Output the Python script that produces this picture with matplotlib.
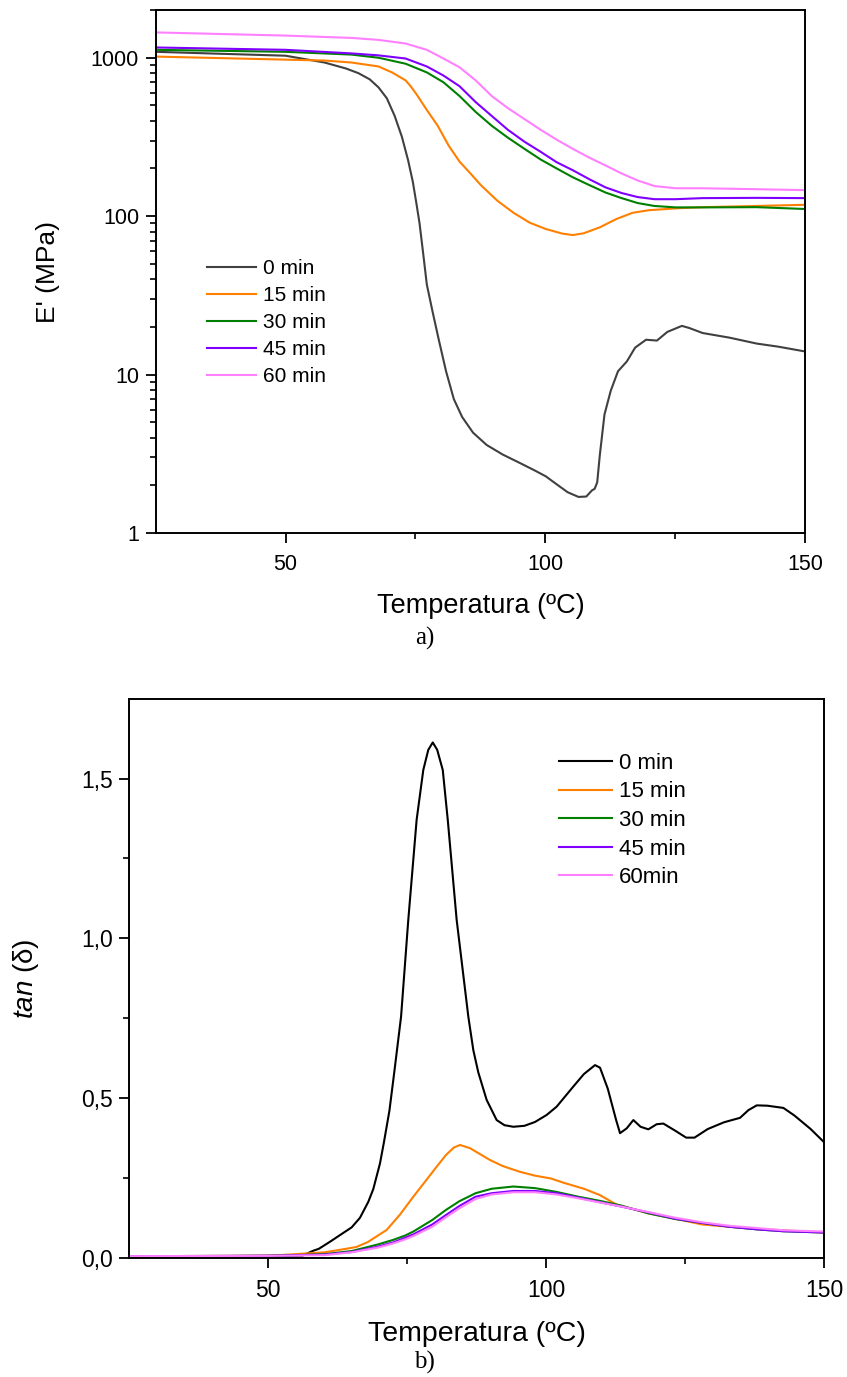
import matplotlib
matplotlib.use("Agg")
import matplotlib.pyplot as plt
from matplotlib.ticker import FixedLocator, NullFormatter, LogLocator

plt.rcParams['font.family'] = ['Liberation Sans', 'DejaVu Sans']
plt.rcParams['mathtext.fontset'] = 'custom'
plt.rcParams['mathtext.it'] = 'Liberation Sans:italic'
plt.rcParams['mathtext.rm'] = 'Liberation Sans'

# ---------------- data: storage modulus E' (MPa) ----------------
T_e0 = [25, 50, 57.5, 61.6, 64, 66.2, 67.9, 69.5, 71, 72.4, 73.6, 74.5, 75.2, 75.8, 76.5,
        77.2, 78.3, 79.5, 80.9, 82.4, 84, 86.1, 88.7, 91.8, 94.9, 98, 100.1, 102.2, 104.3,
        106.4, 107.9, 109, 109.5, 110, 110.5, 111.4, 112.6, 114, 115.7, 117.3, 119.4,
        121.5, 123.5, 126.3, 127.7, 130.3, 135.5, 140.7, 144.9, 150]
E_0min = [1090, 1030, 933, 856, 800, 731, 650, 555, 430, 317, 225, 165, 120, 90, 58,
          37, 25, 16.6, 10.5, 7.0, 5.4, 4.3, 3.6, 3.13, 2.79, 2.48, 2.28, 2.03, 1.81,
          1.69, 1.70, 1.86, 1.90, 2.09, 3.1, 5.6, 7.9, 10.5, 12.1, 14.8, 16.6,
          16.4, 18.6, 20.3, 19.7, 18.3, 17.1, 15.7, 15.0, 14.0]

T_e15 = [25, 57.5, 62.7, 67.9, 70.5, 73.1, 74.1, 75.2, 77.2, 79.3, 81.4, 83.5, 85.6, 87.6,
         90.8, 93.9, 97, 100.1, 103.3, 105.3, 107.4, 110.5, 113.7, 116.8, 119.9, 125.1,
         130.3, 140.7, 150]
E_15min = [1017, 960, 933, 881, 808, 720, 660, 589, 468, 372, 279, 221, 186, 157,
           125, 105, 91, 83, 77.6, 76, 78, 85, 96, 105, 109, 112, 114, 116, 118]

T_e = [25, 50, 62.7, 67.9, 73.1, 77.2, 80.4, 83.5, 86.6, 89.7, 92.8, 96, 99.1, 102.2,
       105.3, 108.5, 111.6, 114.7, 117.8, 121, 125.1, 130.3, 140.7, 150]
E_30min = [1122, 1090, 1047, 1000, 917, 808, 700, 573, 455, 372, 313, 266, 228, 200,
           176, 157, 141, 130, 121, 116, 113.6, 113.6, 114, 111]
E_45min = [1161, 1122, 1065, 1035, 989, 881, 772, 661, 525, 429, 351, 295, 255, 219,
           195, 171, 152, 140, 132, 128, 128, 130, 130.5, 130]
E_60min = [1445, 1380, 1334, 1296, 1230, 1122, 989, 870, 720, 573, 481, 410, 351, 304,
           266, 234, 209, 186, 168, 155, 150, 150, 148, 146]

# ---------------- data: tan(delta) ----------------
T_t0 = [25, 40, 56.2, 58.1, 59.1, 61.1, 63, 65, 66.5, 68, 68.9, 70.1, 70.8, 71.8, 72.7,
        73.9, 75.2, 76.7, 77.9, 78.8, 79.6, 80.4, 81.4, 82.3, 83.9, 86, 86.9, 87.8, 89.3,
        91.1, 92.5, 94.1, 96.1, 98, 100.1, 101.9, 104.9, 106.8, 108.8, 109.7, 111.1,
        112.6, 113.3, 114.5, 115.7, 117, 118.4, 119.9, 121.1, 123.3, 125.2, 126.7, 129.1,
        132, 134.9, 136.4, 137.9, 139.8, 142.7, 144.7, 147.6, 150]
tan_0min = [0.005, 0.005, 0.007, 0.022, 0.028, 0.050, 0.072, 0.095, 0.125, 0.175, 0.215,
            0.295, 0.36, 0.46, 0.584, 0.755, 1.058, 1.371, 1.527, 1.590, 1.613, 1.590,
            1.527, 1.371, 1.058, 0.755, 0.650, 0.580, 0.494, 0.431, 0.415, 0.410, 0.413,
            0.425, 0.447, 0.473, 0.536, 0.575, 0.603, 0.595, 0.529, 0.431, 0.390, 0.405,
            0.431, 0.410, 0.402, 0.418, 0.420, 0.397, 0.376, 0.376, 0.403, 0.424, 0.438,
            0.462, 0.477, 0.476, 0.469, 0.445, 0.403, 0.362]

T_t15 = [25, 50, 60.1, 64, 65.9, 67.9, 71.3, 73.7, 76.1, 78.3, 80.3, 82, 83.4, 84.5, 86.3,
         89.9, 92.2, 95.3, 98, 100.9, 103.1, 106.8, 109.7, 112.6, 115.5, 118.4, 123.3,
         128.1, 133, 137.9, 142.7, 150]
tan_15min = [0.005, 0.006, 0.017, 0.028, 0.034, 0.049, 0.087, 0.135, 0.191, 0.240, 0.285,
             0.322, 0.345, 0.353, 0.343, 0.306, 0.287, 0.269, 0.257, 0.248, 0.235, 0.216,
             0.196, 0.167, 0.153, 0.139, 0.122, 0.104, 0.097, 0.090, 0.086, 0.079]

T_t = [25, 50, 60.1, 65, 69.8, 72.5, 74.7, 76.1, 79.5, 82, 84.4, 87.3, 90.2, 94.1, 98,
       101.9, 105.8, 109.7, 113.6, 118.4, 123.3, 128.1, 133, 137.9, 142.7, 150]
tan_30min = [0.005, 0.006, 0.011, 0.021, 0.042, 0.056, 0.070, 0.082, 0.118, 0.150, 0.177,
             0.202, 0.216, 0.223, 0.218, 0.206, 0.191, 0.178, 0.163, 0.139, 0.121, 0.109,
             0.097, 0.089, 0.083, 0.079]
tan_45min = [0.005, 0.006, 0.010, 0.018, 0.035, 0.048, 0.063, 0.073, 0.104, 0.134, 0.162,
             0.191, 0.202, 0.209, 0.209, 0.202, 0.188, 0.174, 0.160, 0.142, 0.122, 0.109,
             0.097, 0.089, 0.083, 0.079]
tan_60min = [0.005, 0.006, 0.008, 0.017, 0.032, 0.045, 0.058, 0.068, 0.097, 0.127, 0.155,
             0.184, 0.198, 0.205, 0.205, 0.198, 0.186, 0.173, 0.160, 0.143, 0.125, 0.111,
             0.100, 0.093, 0.086, 0.082]

labels_top = ['0 min', '15 min', '30 min', '45 min', '60 min']
labels_bot = ['0 min', '15 min', '30 min', '45 min', '60min']
x_ticks = [50, 100, 150]
x_minor = [75, 125]
e_ticks = [1, 10, 100, 1000]
e_ticklabels = ['1', '10', '100', '1000']
t_ticks = [0.0, 0.5, 1.0, 1.5]
t_ticklabels = ['0,0', '0,5', '1,0', '1,5']
t_minor = [0.25, 0.75, 1.25]

c_grey = '#404040'
c_black = '#000000'
c_orange = '#ff8000'
c_green = '#008000'
c_purple = '#7f00ff'
c_pink = '#ff80ff'

fig = plt.figure(figsize=(8.47, 13.77), dpi=100)
ax1 = fig.add_axes([0.1838, 0.6129, 0.9504 - 0.1838, 0.9927 - 0.6129])
ax2 = fig.add_axes([0.1527, 0.0866, 0.9728 - 0.1527, 0.4926 - 0.0866])

lw = 1.5
ax1.plot(T_e0, E_0min, color=c_grey, lw=lw, label=labels_top[0])
ax1.plot(T_e15, E_15min, color=c_orange, lw=lw, label=labels_top[1])
ax1.plot(T_e, E_30min, color=c_green, lw=lw, label=labels_top[2])
ax1.plot(T_e, E_45min, color=c_purple, lw=lw, label=labels_top[3])
ax1.plot(T_e, E_60min, color=c_pink, lw=lw, label=labels_top[4])
ax1.set_yscale('log')
ax1.set_xlim(25, 150)
ax1.set_ylim(1, 2000)
ax1.set_yticks(e_ticks)
ax1.set_yticklabels(e_ticklabels)
ax1.yaxis.set_minor_locator(LogLocator(base=10, subs=range(2, 10)))
ax1.yaxis.set_minor_formatter(NullFormatter())

ax2.plot(T_t0, tan_0min, color=c_black, lw=lw, label=labels_bot[0])
ax2.plot(T_t15, tan_15min, color=c_orange, lw=lw, label=labels_bot[1])
ax2.plot(T_t, tan_30min, color=c_green, lw=lw, label=labels_bot[2])
ax2.plot(T_t, tan_45min, color=c_purple, lw=lw, label=labels_bot[3])
ax2.plot(T_t, tan_60min, color=c_pink, lw=lw, label=labels_bot[4])
ax2.set_xlim(25, 150)
ax2.set_ylim(0, 1.75)
ax2.set_yticks(t_ticks)
ax2.set_yticklabels(t_ticklabels)
ax2.yaxis.set_minor_locator(FixedLocator(t_minor))

for ax, fs in ((ax1, 15.5), (ax2, 16.5)):
    ax.set_xticks(x_ticks)
    ax.xaxis.set_minor_locator(FixedLocator(x_minor))
    ax.tick_params(which='major', direction='out', length=7, width=1.3, labelsize=fs,
                   top=False, right=False, pad=5)
    ax.tick_params(axis='x', which='major', pad=8)
    ax.tick_params(which='minor', direction='out', length=4.5, width=1.2,
                   top=False, right=False)
    for s in ax.spines.values():
        s.set_linewidth(1.4)

ax1.set_xlabel('Temperatura (ºC)', fontsize=19.5, labelpad=13)
ax1.set_ylabel("E' (MPa)", fontsize=19, labelpad=22)
ax2.set_xlabel('Temperatura (ºC)', fontsize=20.5, labelpad=14)
ax2.set_ylabel(r'$\mathit{tan}$ (δ)', fontsize=20, labelpad=29)

leg1 = ax1.legend(loc='upper left', bbox_to_anchor=(0.079, 0.524), frameon=False,
                  fontsize=15, handlelength=2.35, handletextpad=0.34, labelspacing=0.39,
                  borderpad=0, borderaxespad=0)
leg2 = ax2.legend(loc='upper left', bbox_to_anchor=(0.6185, 0.903), frameon=False,
                  fontsize=16, handlelength=2.39, handletextpad=0.32, labelspacing=0.34,
                  borderpad=0, borderaxespad=0)

fig.text(425 / 847, 1 - 638 / 1377, 'a)', fontsize=18, family='Liberation Serif',
         ha='center', va='center')
fig.text(424 / 847, 1 - 1362 / 1377, 'b)', fontsize=18, family='Liberation Serif',
         ha='center', va='center')

fig.savefig('out.png', dpi=100)
